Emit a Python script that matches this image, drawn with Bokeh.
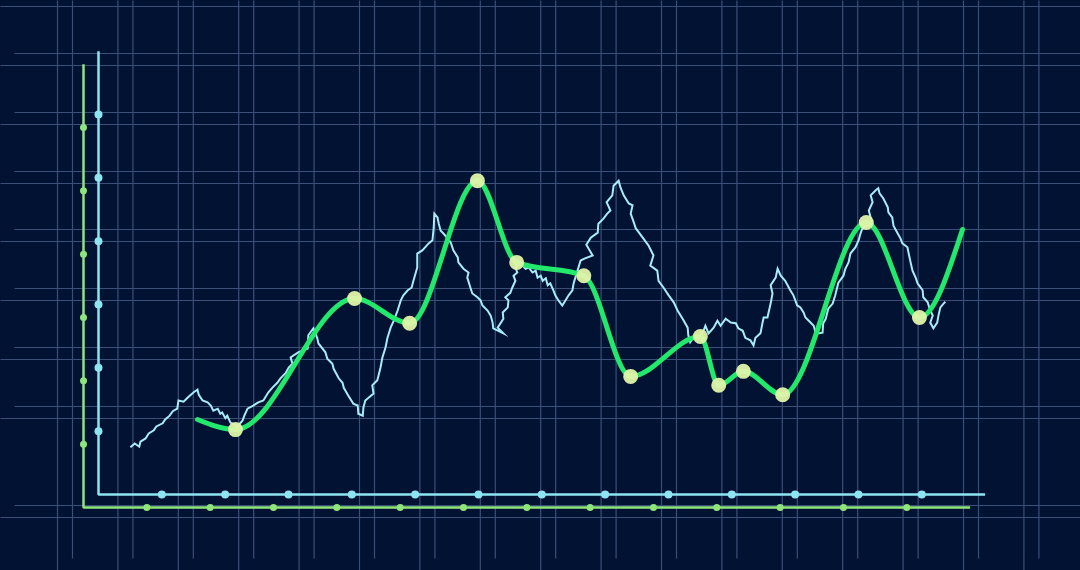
import numpy as np
from bokeh.plotting import figure
from bokeh.models import Range1d
from bokeh.embed import file_html
from bokeh.resources import INLINE

# ---------------- data (axis units: 1 unit = one tick step) ----------------
# smooth green series (first and last point carry no marker)
smooth_x = [1.80, 2.40, 4.28, 5.15, 6.22, 6.84, 7.90, 8.64, 9.74, 10.03, 10.42, 11.04, 12.36, 13.20, 13.88]
smooth_y = [1.39, 1.23, 3.30, 2.91, 5.16, 3.87, 3.66, 2.07, 2.70, 1.93, 2.15, 1.78, 4.50, 3.00, 4.39]

# jagged cyan series
jag_x = [0.74, 0.81, 0.88, 0.90, 0.98, 1.03, 1.11, 1.15, 1.25, 1.29, 1.36, 1.41, 1.48, 1.50, 1.58, 1.66,
         1.74, 1.80, 1.82, 1.88, 1.96, 2.01, 2.05, 2.12, 2.16, 2.19, 2.24, 2.27, 2.32, 2.43, 2.51, 2.54,
         2.59, 2.68, 2.76, 2.84, 2.92, 2.98, 3.06, 3.11, 3.19, 3.24, 3.30, 3.27, 3.39, 3.54, 3.55, 3.63,
         3.69, 3.71, 3.82, 3.85, 3.93, 3.95, 4.03, 4.09, 4.11, 4.18, 4.26, 4.33, 4.34, 4.41, 4.42, 4.45,
         4.58, 4.56, 4.64, 4.69, 4.72, 4.77, 4.80, 4.85, 4.90, 4.96, 5.01, 5.05, 5.12, 5.18, 5.21, 5.27,
         5.27, 5.35, 5.45, 5.51, 5.53, 5.54, 5.59, 5.61, 5.64, 5.68, 5.75, 5.80, 5.84, 5.91, 5.92, 6.00,
         6.08, 6.06, 6.11, 6.14, 6.22, 6.27, 6.30, 6.38, 6.43, 6.46, 6.47, 6.63, 6.54, 6.63, 6.62, 6.70,
         6.71, 6.66, 6.74, 6.77, 6.82, 6.79, 6.85, 6.82, 6.87, 6.93, 6.98, 7.03, 7.09, 7.14, 7.17, 7.22,
         7.25, 7.30, 7.33, 7.37, 7.42, 7.45, 7.50, 7.56, 7.61, 7.66, 7.72, 7.74, 7.80, 7.85, 7.91, 8.04,
         7.94, 8.01, 8.12, 8.13, 8.21, 8.27, 8.32, 8.26, 8.35, 8.37, 8.45, 8.48, 8.53, 8.61, 8.67, 8.64,
         8.68, 8.72, 8.83, 8.92, 9.00, 8.95, 9.06, 9.08, 9.16, 9.24, 9.32, 9.38, 9.46, 9.54, 9.55, 9.58,
         9.63, 9.71, 9.79, 9.82, 9.87, 9.95, 10.01, 10.06, 10.14, 10.22, 10.30, 10.34, 10.41, 10.45, 10.53, 10.58,
         10.61, 10.69, 10.72, 10.74, 10.80, 10.85, 10.88, 10.85, 10.93, 10.96, 11.01, 11.08, 11.16, 11.21, 11.27, 11.32,
         11.37, 11.40, 11.48, 11.53, 11.56, 11.61, 11.67, 11.68, 11.72, 11.76, 11.83, 11.87, 11.92, 12.00, 12.03, 12.08,
         12.11, 12.19, 12.24, 12.27, 12.30, 12.38, 12.46, 12.43, 12.40, 12.46, 12.43, 12.51, 12.55, 12.57, 12.63, 12.70,
         12.71, 12.77, 12.79, 12.85, 12.90, 12.93, 13.01, 13.03, 13.06, 13.09, 13.14, 13.17, 13.25, 13.26, 13.33, 13.36,
         13.41, 13.37, 13.42, 13.48, 13.50, 13.53, 13.58, 13.61]
jag_y = [0.95, 1.01, 0.96, 1.04, 1.09, 1.17, 1.22, 1.28, 1.33, 1.39, 1.45, 1.52, 1.56, 1.69, 1.67, 1.75,
         1.82, 1.86, 1.78, 1.69, 1.66, 1.61, 1.53, 1.56, 1.48, 1.50, 1.41, 1.45, 1.34, 1.28, 1.37, 1.45,
         1.56, 1.61, 1.66, 1.69, 1.82, 1.89, 1.97, 2.04, 2.12, 2.21, 2.27, 2.37, 2.45, 2.51, 2.72, 2.83,
         2.68, 2.59, 2.45, 2.35, 2.27, 2.19, 2.04, 1.97, 1.89, 1.77, 1.64, 1.61, 1.48, 1.45, 1.58, 1.69,
         1.80, 1.93, 2.01, 2.21, 2.37, 2.53, 2.68, 2.84, 2.95, 3.11, 3.27, 3.35, 3.43, 3.47, 3.58, 3.79,
         4.01, 4.06, 4.17, 4.22, 4.42, 4.64, 4.58, 4.48, 4.37, 4.33, 4.25, 4.18, 4.06, 3.95, 3.87, 3.77,
         3.71, 3.63, 3.47, 3.38, 3.32, 3.27, 3.19, 3.11, 3.03, 2.92, 2.83, 2.75, 2.84, 2.98, 3.08, 3.16,
         3.27, 3.32, 3.39, 3.47, 3.58, 3.66, 3.71, 3.79, 3.85, 3.82, 3.77, 3.79, 3.71, 3.74, 3.63, 3.66,
         3.58, 3.62, 3.51, 3.54, 3.43, 3.35, 3.27, 3.19, 3.27, 3.35, 3.43, 3.54, 3.74, 3.90, 3.93, 3.98,
         4.15, 4.26, 4.34, 4.48, 4.56, 4.64, 4.69, 4.82, 4.93, 5.08, 5.16, 5.05, 4.93, 4.80, 4.77, 4.64,
         4.53, 4.41, 4.26, 4.14, 3.98, 3.82, 3.74, 3.58, 3.47, 3.35, 3.24, 3.11, 2.98, 2.84, 2.72, 2.61,
         2.68, 2.67, 2.79, 2.87, 2.75, 2.84, 2.95, 2.87, 2.98, 2.92, 2.91, 2.83, 2.79, 2.68, 2.64, 2.56,
         2.68, 2.75, 2.91, 3.00, 3.00, 3.22, 3.38, 3.51, 3.63, 3.77, 3.66, 3.58, 3.43, 3.35, 3.19, 3.16,
         3.08, 3.00, 2.92, 2.87, 2.76, 2.75, 2.76, 2.91, 2.98, 3.14, 3.22, 3.35, 3.55, 3.66, 3.77, 3.87,
         4.01, 4.11, 4.22, 4.33, 4.41, 4.45, 4.48, 4.58, 4.69, 4.82, 4.93, 5.01, 5.04, 4.96, 4.88, 4.74,
         4.66, 4.58, 4.45, 4.34, 4.25, 4.17, 4.11, 4.01, 3.87, 3.74, 3.63, 3.54, 3.43, 3.32, 3.24, 3.14,
         3.03, 2.92, 2.83, 2.92, 3.03, 3.16, 3.22, 3.25]

# decorative axes: tick positions and extents (axis units)
axis_ticks_x = list(range(1, 14))
axis_ticks_y = list(range(1, 7))
axis_len_x = 14
axis_len_y = 7

# ---------------- layout / style ----------------
BG = "#011232"
GRID = "#3a4f78"
GREEN_AXIS = "#8ee67a"
CYAN_AXIS = "#8fe4f4"
CURVE = "#22e86c"
JAG = "#a8ecf8"
MARK = "#e2f5aa"

PX = 63.33            # pixels per axis unit
OX, OY = 83, 507      # page position of the green axes origin
W, H = 1080, 570      # figure size (Bokeh's page template has no body margin)


def dx(px):
    return (px - OX) / PX


def dy(py):
    return (OY - py) / PX


p = figure(width=W, height=H, output_backend="svg", toolbar_location=None,
           x_range=Range1d(dx(0), dx(W)), y_range=Range1d(dy(H), dy(0)),
           x_axis_type=None, y_axis_type=None, min_border=0,
           background_fill_color=BG, border_fill_color=BG, outline_line_color=None)

# background grid (two interleaved lattices)
vA = [dx(57 + 60.4 * k) for k in range(17)]
vB = [dx(72 + 60.4 * k) for k in range(17)]
hY = [dy(v) for v in (6, 65, 124, 183, 241, 300, 359, 418, 517)]
hX = [dy(v) for v in (53, 112, 171, 229, 288, 347, 406, 505)]
top, bot = dy(-10), dy(580)
left, right = dx(-10), dx(1090)
p.segment(vA, [bot] * len(vA), vA, [top] * len(vA), line_color=GRID, line_width=1.2)
p.segment(vB, [dy(558)] * len(vB), vB, [top] * len(vB), line_color=GRID, line_width=1.2)
p.segment([left] * len(hY), hY, [right] * len(hY), hY, line_color=GRID, line_width=1.2)
p.segment([dx(14)] * len(hX), hX, [right] * len(hX), hX, line_color=GRID, line_width=1.2)

# green axes (origin 0,0)
p.line([0, 0, axis_len_x], [axis_len_y, 0, 0], line_color=GREEN_AXIS, line_width=2.5)
p.scatter(axis_ticks_x, [0] * len(axis_ticks_x), size=7, fill_color=GREEN_AXIS, line_color=None)
p.scatter([0] * len(axis_ticks_y), axis_ticks_y, size=7, fill_color=GREEN_AXIS, line_color=None)

# cyan axes (offset lattice)
cx0, cy0 = 15 / PX, 13 / PX
p.line([cx0, cx0, cx0 + axis_len_x], [cy0 + axis_len_y, cy0, cy0], line_color=CYAN_AXIS, line_width=2.5)
p.scatter([cx0 + t for t in axis_ticks_x], [cy0] * len(axis_ticks_x), size=8, fill_color=CYAN_AXIS, line_color=None)
p.scatter([cx0] * len(axis_ticks_y), [cy0 + t for t in axis_ticks_y], size=8, fill_color=CYAN_AXIS, line_color=None)

# jagged series
p.line(jag_x, jag_y, line_color=JAG, line_width=2, line_join="miter")

# smooth series: monotone cubic drawn as bezier segments
x = np.array(smooth_x)
y = np.array(smooth_y)
h = np.diff(x)
s = np.diff(y) / h
m = np.zeros(len(x))
for i in range(1, len(x) - 1):
    h0, h1, s0, s1 = h[i - 1], h[i], s[i - 1], s[i]
    pp = (s0 * h1 + s1 * h0) / (h0 + h1)
    m[i] = (np.sign(s0) + np.sign(s1)) * min(abs(s0), abs(s1), 0.5 * abs(pp))
m[0] = (3 * s[0] - m[1]) / 2
m[-1] = (3 * s[-1] - m[-2]) / 2
p.bezier(x0=x[:-1], y0=y[:-1], x1=x[1:], y1=y[1:],
         cx0=x[:-1] + h / 3, cy0=y[:-1] + m[:-1] * h / 3,
         cx1=x[1:] - h / 3, cy1=y[1:] - m[1:] * h / 3,
         line_color=CURVE, line_width=5, line_cap="round")

p.scatter(smooth_x[1:-1], smooth_y[1:-1], size=15, fill_color=MARK, line_color=None, fill_alpha=0.95)

html = file_html(p, INLINE)
html = html.replace("</head>", "<style>html,body{background:%s;overflow:hidden;}</style></head>" % BG, 1)
open("out.html", "w").write(html)
